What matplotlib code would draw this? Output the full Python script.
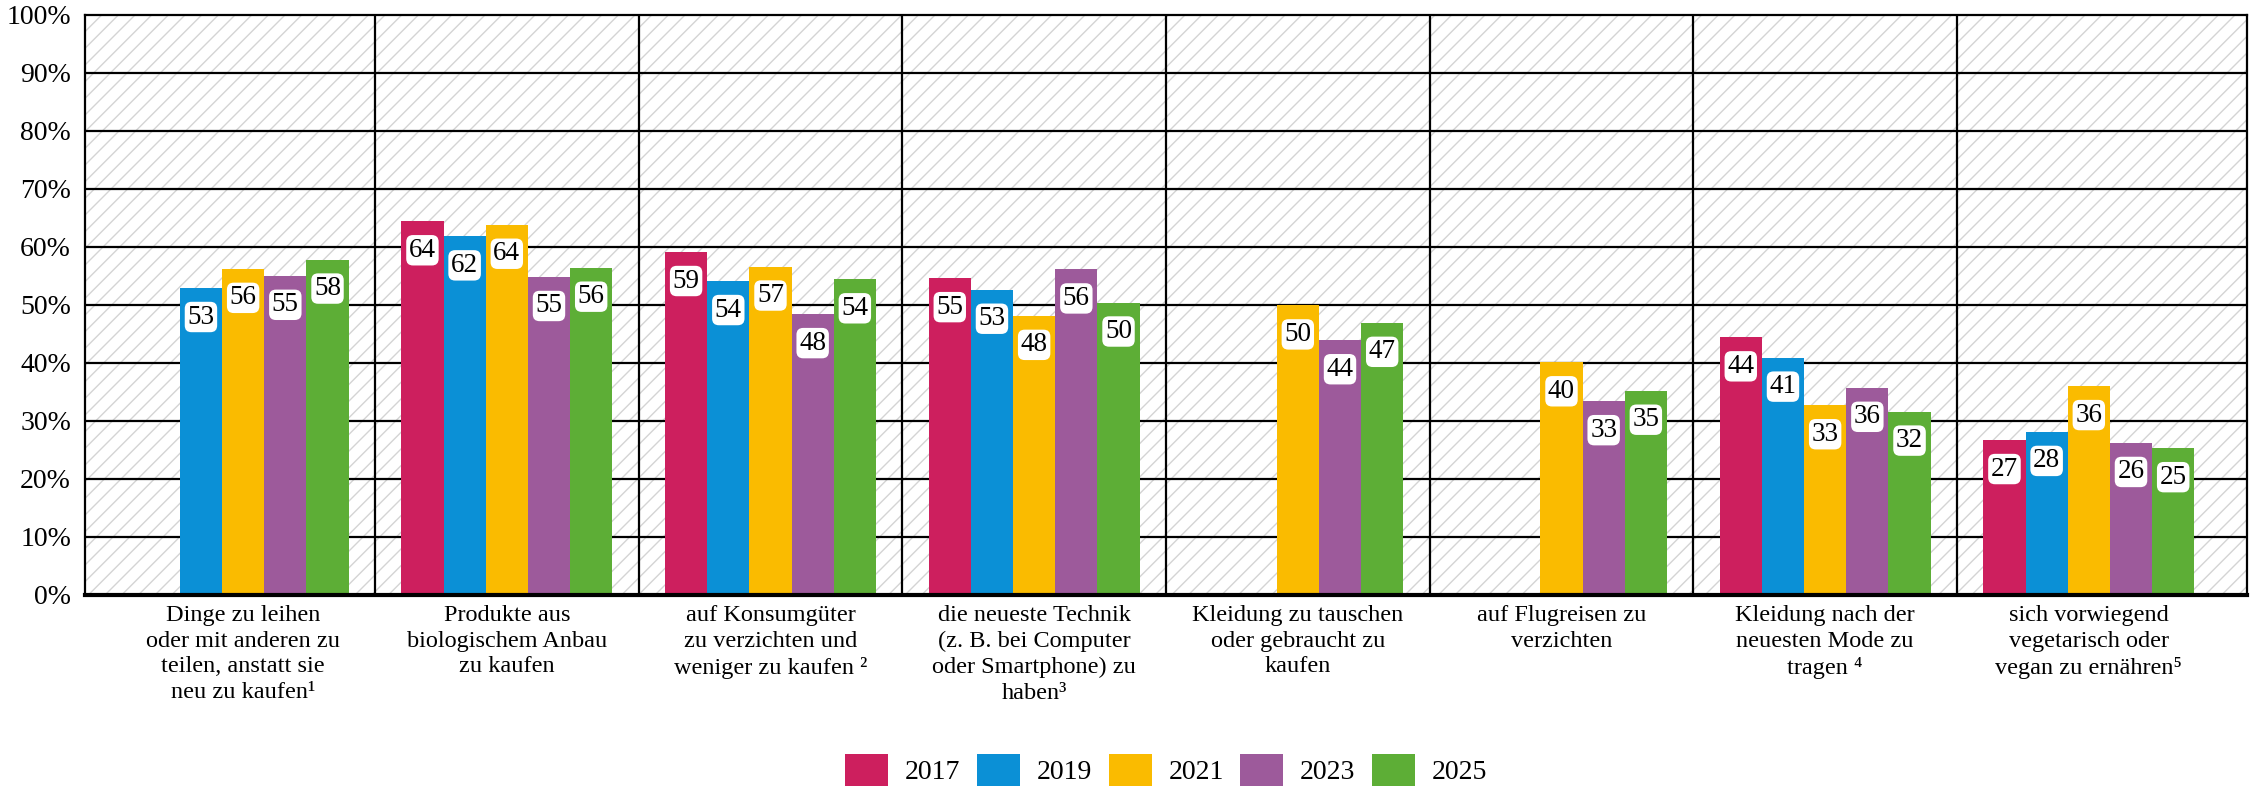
"""
Nachhaltiges Konsumverhalten: Anteile je Erhebungsjahr
"""
import numpy as np
import matplotlib
matplotlib.use("Agg")
import matplotlib.pyplot as plt
from matplotlib.patches import Rectangle

plt.rcParams['font.family'] = ['Liberation Serif', 'DejaVu Serif']

categories = [
    "Dinge zu leihen\noder mit anderen zu\nteilen, anstatt sie\nneu zu kaufen¹",
    "Produkte aus\nbiologischem Anbau\nzu kaufen",
    "auf Konsumgüter\nzu verzichten und\nweniger zu kaufen ²",
    "die neueste Technik\n(z. B. bei Computer\noder Smartphone) zu\nhaben³",
    "Kleidung zu tauschen\noder gebraucht zu\nkaufen",
    "auf Flugreisen zu\nverzichten",
    "Kleidung nach der\nneuesten Mode zu\ntragen ⁴",
    "sich vorwiegend\nvegetarisch oder\nvegan zu ernähren⁵",
]

years = ["2017", "2019", "2021", "2023", "2025"]

nan = np.nan
v2017 = [nan, 64.4, 59.1, 54.6, nan, nan, 44.4, 26.7]
v2019 = [52.9, 61.8, 54.1, 52.6, nan, nan, 40.9, 28.1]
v2021 = [56.2, 63.8, 56.6, 48.1, 49.9, 40.1, 32.7, 36.0]
v2023 = [55.0, 54.8, 48.4, 56.1, 43.9, 33.4, 35.7, 26.2]
v2025 = [57.8, 56.4, 54.4, 50.4, 46.9, 35.2, 31.6, 25.3]

colors = ["#cd1f5e", "#0b90d6", "#fabb00", "#9d5a9b", "#5dae36"]

yticks = [0, 10, 20, 30, 40, 50, 60, 70, 80, 90, 100]
ytick_labels = ["0%", "10%", "20%", "30%", "40%", "50%", "60%", "70%", "80%", "90%", "100%"]


def draw_plot():
    series = [v2017, v2019, v2021, v2023, v2025]
    fig = plt.figure(figsize=(22.59, 7.89), dpi=100)
    ax = fig.add_axes([0.0376, 0.2459, 0.9571, 0.7355])

    # schraffierter Hintergrund
    ax.add_patch(Rectangle((0, 0), 1, 1, transform=ax.transAxes, facecolor="white",
                           edgecolor="#d4d4d4", hatch="//", lw=0, zorder=0))

    x = np.arange(len(categories))
    width = 0.16
    for i, vals in enumerate(series):
        pos = x + (i - 2) * width
        vals = np.array(vals, dtype=float)
        ax.bar(pos, vals, width, color=colors[i], label=years[i], zorder=2)
        for px, v in zip(pos, vals):
            if np.isnan(v):
                continue
            ax.annotate(f"{v:.0f}", (px, v), xytext=(0, -29), textcoords="offset pixels",
                        ha="center", va="center", fontsize=19.5, zorder=3,
                        bbox=dict(boxstyle="round,pad=0.1,rounding_size=0.25",
                                  fc="white", ec="none"))

    # Gitter und Trennlinien
    ax.set_ylim(0, 100)
    ax.set_xlim(-0.6, len(categories) - 0.4)
    ax.set_yticks(yticks)
    ax.set_yticklabels(ytick_labels, fontsize=20)
    for y in yticks[1:-1]:
        ax.axhline(y, color="black", lw=1.6, zorder=1)
    for k in range(len(categories) - 1):
        ax.axvline(k + 0.5, color="black", lw=1.6, zorder=1)

    ax.set_xticks(x)
    ax.set_xticklabels(categories, fontsize=17.5, linespacing=1.3, va="top", ha="center",
                       multialignment="center")
    ax.tick_params(axis="both", length=0)
    ax.tick_params(axis="x", pad=7)
    ax.tick_params(axis="y", pad=10)

    for s in ax.spines.values():
        s.set_color("black")
        s.set_linewidth(1.6)
        s.set_zorder(4)
    ax.spines["bottom"].set_linewidth(3)

    fig.legend(loc="center", bbox_to_anchor=(0.5162, 1 - 770 / 789), ncol=5, frameon=False,
               fontsize=20, handlelength=1.55, handleheight=1.4, handletextpad=0.6,
               columnspacing=0.6)

    fig.savefig("out.png", dpi=100)


def main():
    draw_plot()


if __name__ == "__main__":
    main()
